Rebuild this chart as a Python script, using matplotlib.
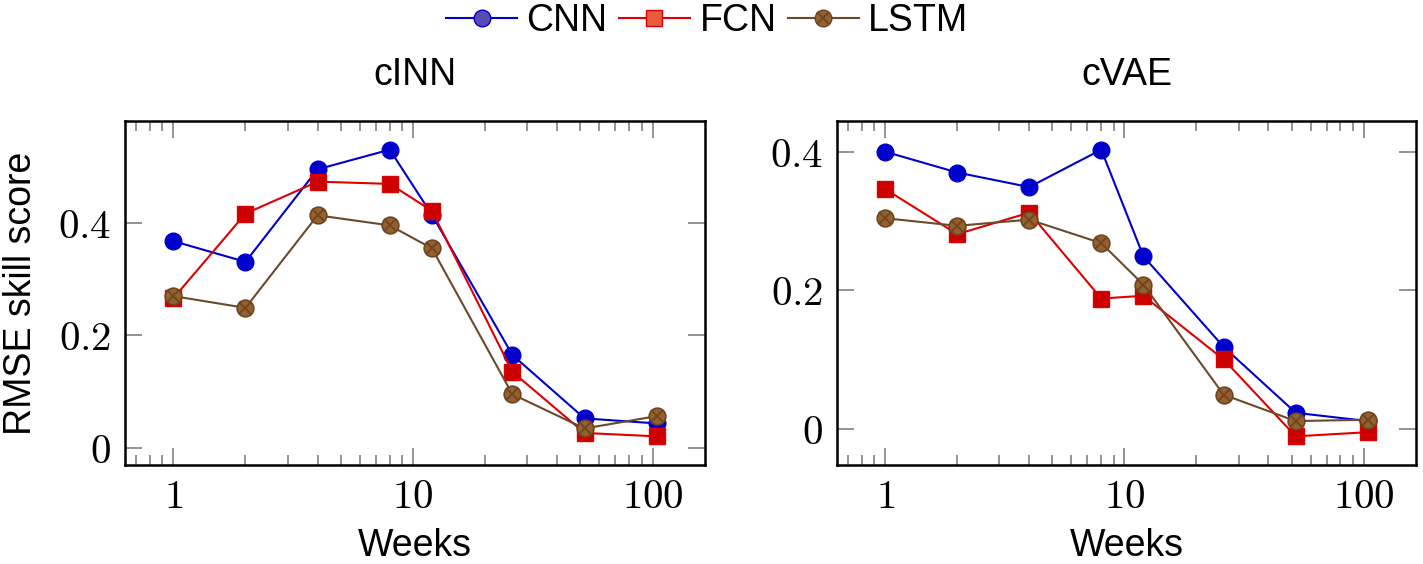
import numpy as np
import matplotlib
matplotlib.use("Agg")
import matplotlib.pyplot as plt
from matplotlib.lines import Line2D
from matplotlib.legend_handler import HandlerTuple
from matplotlib.ticker import FixedLocator, NullFormatter, LogLocator

plt.rcParams['mathtext.fontset'] = 'cm'
plt.rcParams['font.family'] = ['Liberation Sans', 'DejaVu Sans']

# ---------------- data ----------------
weeks = [1, 2, 4, 8, 12, 26, 52, 104]

cinn_cnn = [0.368, 0.331, 0.496, 0.531, 0.415, 0.165, 0.052, 0.043]
cinn_fcn = [0.266, 0.417, 0.474, 0.470, 0.422, 0.135, 0.026, 0.020]
cinn_lstm = [0.270, 0.249, 0.414, 0.396, 0.355, 0.095, 0.034, 0.056]

cvae_cnn = [0.400, 0.370, 0.349, 0.403, 0.249, 0.118, 0.023, 0.011]
cvae_fcn = [0.346, 0.281, 0.312, 0.188, 0.192, 0.100, -0.011, -0.005]
cvae_lstm = [0.304, 0.293, 0.302, 0.268, 0.208, 0.049, 0.011, 0.013]

titles = ["cINN", "cVAE"]
series_names = ["CNN", "FCN", "LSTM"]
xtick_vals = [1, 10, 100]
xtick_labels = ["$1$", "$10$", "$100$"]
ytick_vals = [0, 0.2, 0.4]
ytick_labels = ["$0$", "$0.2$", "$0.4$"]

# ---------------- style ----------------
c_cnn = '#0000cc'
c_fcn = '#dd0000'
c_fcn_face = '#cc0000'
c_lstm = '#6b4a2b'
c_lstm_face = '#94602e'
c_lstm_edge = '#6e4520'

W, H = 1423, 564
fig = plt.figure(figsize=(W / 100, H / 100), dpi=100)

ax_pos = [
    [125 / W, 1 - 465 / H, 580 / W, 344 / H],
    [837 / W, 1 - 465 / H, 579 / W, 344 / H],
]

tick_fs = 29.5
label_fs = 27

panels = [
    (cinn_cnn, cinn_fcn, cinn_lstm),
    (cvae_cnn, cvae_fcn, cvae_lstm),
]

for i, (cnn, fcn, lstm) in enumerate(panels):
    ax = fig.add_axes(ax_pos[i])
    ax.set_xscale('log')
    ax.plot(weeks, cnn, '-', color=c_cnn, lw=1.5, marker='o', ms=12,
            mfc=c_cnn, mec=c_cnn, zorder=3)
    ax.plot(weeks, fcn, '-', color=c_fcn, lw=1.5, marker='s', ms=12,
            mfc=c_fcn_face, mec=c_fcn, zorder=4)
    ax.plot(weeks, lstm, '-', color=c_lstm, lw=1.5, marker='o', ms=12,
            mfc=c_lstm_face, mec=c_lstm_edge, mew=1.2, zorder=5)
    ax.plot(weeks, lstm, 'none', marker='x', ms=8, mec=c_lstm_edge,
            mew=1.3, zorder=6)

    # pgfplots-style 10% enlargement
    lx = np.log10([min(weeks), max(weeks)])
    dx = (lx[1] - lx[0]) * 0.1
    ax.set_xlim(10 ** (lx[0] - dx), 10 ** (lx[1] + dx))
    allv = np.concatenate([cnn, fcn, lstm])
    dy = (allv.max() - allv.min()) * 0.1
    ax.set_ylim(allv.min() - dy, allv.max() + dy)

    ax.xaxis.set_major_locator(FixedLocator(xtick_vals))
    ax.set_xticklabels(xtick_labels)
    ax.xaxis.set_minor_locator(LogLocator(base=10, subs=np.arange(2, 10)))
    ax.xaxis.set_minor_formatter(NullFormatter())
    ax.set_yticks(ytick_vals)
    ax.set_yticklabels(ytick_labels)

    ax.tick_params(axis='both', which='both', direction='in', top=True,
                   right=True, color='#808080', width=1.2)
    ax.tick_params(axis='x', which='major', length=12, labelsize=tick_fs, pad=9)
    ax.tick_params(axis='x', which='minor', length=7)
    ax.tick_params(axis='y', which='major', length=12, labelsize=tick_fs, pad=10)
    for sp in ax.spines.values():
        sp.set_linewidth(1.8)
        sp.set_color('black')

    ax.set_xlabel("Weeks", fontsize=label_fs, labelpad=9)
    ax.set_title(titles[i], fontsize=label_fs, pad=26)
    if i == 0:
        ax.set_ylabel("RMSE skill score", fontsize=label_fs, labelpad=14)

# legend
h_cnn = Line2D([], [], color=c_cnn, lw=1.5, marker='o', ms=12,
               mfc='#5a4bb4', mec=c_cnn)
h_fcn = Line2D([], [], color=c_fcn, lw=1.5, marker='s', ms=12,
               mfc='#e65c3c', mec=c_fcn)
h_lstm_a = Line2D([], [], color=c_lstm, lw=1.5, marker='o', ms=12,
                  mfc=c_lstm_face, mec=c_lstm_edge)
h_lstm_b = Line2D([], [], ls='none', marker='x', ms=8, mec=c_lstm_edge, mew=1.3)
fig.legend([h_cnn, h_fcn, (h_lstm_a, h_lstm_b)], series_names,
           loc='upper center', bbox_to_anchor=(0.497, 1.055), ncol=3,
           frameon=False, fontsize=label_fs, handlelength=1.9,
           handletextpad=0.25, columnspacing=0.3,
           handler_map={tuple: HandlerTuple(ndivide=1)})

fig.savefig("out.png", dpi=100)
